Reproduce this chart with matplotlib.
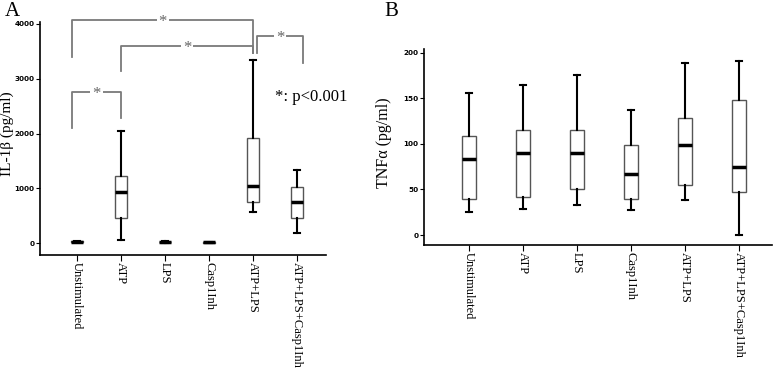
import matplotlib
matplotlib.use("Agg")
import matplotlib.pyplot as plt

# categories shared by both panels
groups = ["Unstimulated", "ATP", "LPS", "Casp1Inh", "ATP+LPS", "ATP+LPS+Casp1Inh"]

# panel A: IL-1b (pg/ml) box stats
il_low = [12, 55, 8, 4, 566, 177]
il_q1 = [18, 463, 14, 8, 743, 450]
il_med = [25, 931, 20, 12, 1047, 755]
il_q3 = [32, 1218, 26, 16, 1918, 1017]
il_high = [38, 2052, 32, 20, 3343, 1327]

# panel B: TNFa (pg/ml)
tnf_low = [25, 29, 33, 27, 38, 0]
tnf_q1 = [40, 42, 50, 39, 55, 47]
tnf_med = [83, 90, 90, 67, 99, 75]
tnf_q3 = [108, 115, 115, 99, 128, 148]
tnf_high = [156, 164, 175, 137, 189, 191]

# significance brackets on panel A: (x left, x right, top, left leg end, right leg end)
brackets = [
    (-0.11, 4.0, 4073, 3397, 3470),
    (1.0, 4.0, 3598, 3142, 3470),
    (4.08, 5.14, 3781, 3470, 3288),
    (-0.11, 1.0, 2758, 2100, 2283),
]

serif = "Liberation Serif"
fig = plt.figure(figsize=(7.78, 3.73), dpi=100)


def draw_boxes(ax, low, q1, med, q3, high, width, capw):
    stats = []
    for i in range(len(groups)):
        stats.append({"whislo": low[i], "q1": q1[i], "med": med[i],
                      "q3": q3[i], "whishi": high[i], "fliers": []})
    ax.bxp(stats, positions=range(len(groups)), widths=width, patch_artist=True,
           showfliers=False, capwidths=capw,
           boxprops=dict(facecolor="white", edgecolor="#555555", linewidth=1.0),
           whiskerprops=dict(color="black", linewidth=1.5),
           capprops=dict(color="black", linewidth=1.5),
           medianprops=dict(color="black", linewidth=2.5))
    for s in ["top", "right"]:
        ax.spines[s].set_visible(False)
    ax.spines["left"].set_linewidth(1.2)
    ax.spines["bottom"].set_linewidth(1.2)
    ax.set_xticks(range(len(groups)))
    ax.set_xticklabels(groups, rotation=270, fontsize=9, family=serif, va="top")
    ax.tick_params(axis="y", labelsize=5.2, length=3, pad=1)
    ax.tick_params(axis="x", length=4, pad=1)
    for lab in ax.get_yticklabels():
        lab.set_fontweight("bold")


# ---- panel A
ax1 = fig.add_axes([0.0514, 0.316, 0.367, 0.625])
draw_boxes(ax1, il_low, il_q1, il_med, il_q3, il_high, 0.27, 0.14)
ax1.set_xlim(-0.84, 5.64)
ax1.set_ylim(-219, 4036)
ax1.set_yticks([0, 1000, 2000, 3000, 4000])
ax1.set_ylabel("IL-1β (pg/ml)", family=serif, fontsize=11)
ax1.yaxis.set_label_coords(-0.092, 0.52)

for x1, x2, top, y1, y2 in brackets:
    ax1.plot([x1, x1, x2, x2], [y1, top, top, y2], color="#7a7a7a",
             linewidth=1.3, clip_on=False)
    ax1.text((x1 + x2) / 2, top - 40, "*", ha="center", va="center",
             fontsize=12, color="#666666", family=serif, clip_on=False,
             bbox=dict(facecolor="white", edgecolor="none", pad=1.5))

ax1.text(4.5, 2667, "*: p<0.001", family=serif, fontsize=12, va="center")
fig.text(0.006, 0.995, "A", family=serif, fontsize=15, va="top")

# ---- panel B
ax2 = fig.add_axes([0.545, 0.343, 0.447, 0.526])
draw_boxes(ax2, tnf_low, tnf_q1, tnf_med, tnf_q3, tnf_high, 0.26, 0.11)
ax2.set_xlim(-0.83, 5.61)
ax2.set_ylim(-11, 204)
ax2.set_yticks([0, 50, 100, 150, 200])
ax2.set_ylabel("TNFα (pg/ml)", family=serif, fontsize=11.5)
ax2.yaxis.set_label_coords(-0.092, 0.52)
fig.text(0.494, 0.995, "B", family=serif, fontsize=15, va="top")

fig.savefig("out.png", dpi=100)
